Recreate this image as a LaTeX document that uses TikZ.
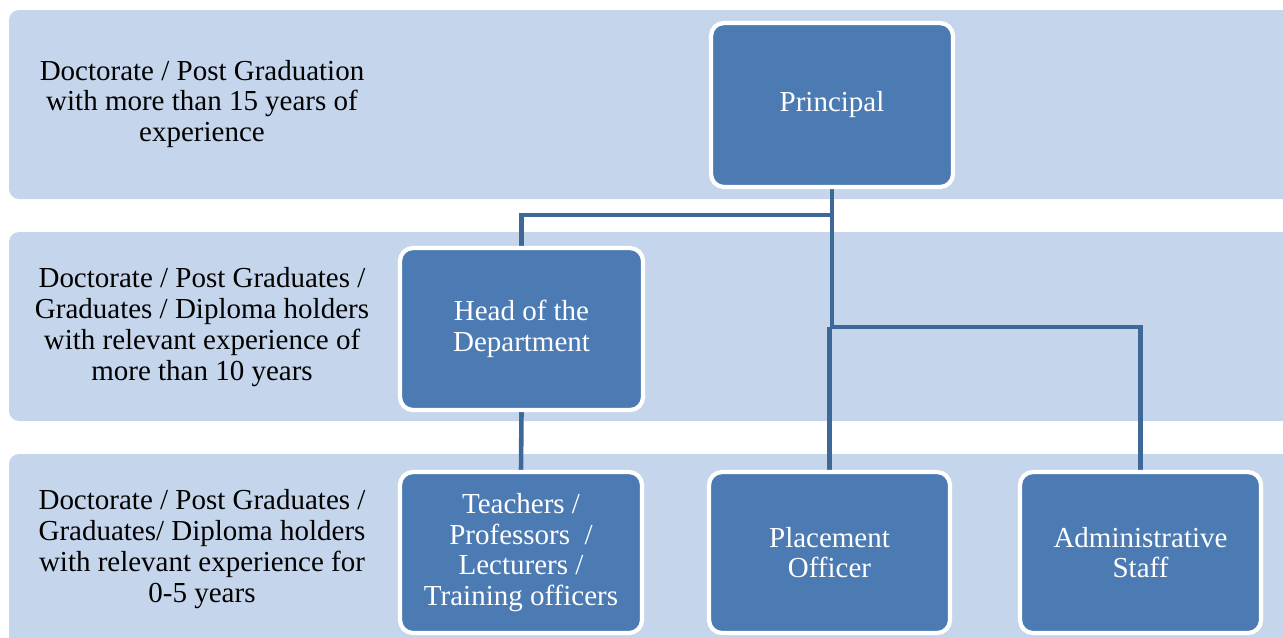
\documentclass[tikz,border=0pt]{standalone}
\usepackage{fontspec}
\setmainfont{Liberation Serif}
\newfontfamily\tnr{Liberation Serif}
\usetikzlibrary{backgrounds}
\definecolor{bandblue}{HTML}{C5D6EC}
\definecolor{boxblue}{HTML}{4C7BB4}
\definecolor{lineblue}{HTML}{3E6897}
\begin{document}
\begin{tikzpicture}[x=0.02cm,y=-0.02cm,
  band/.style={fill=bandblue,draw=none,rounded corners=0.2cm},
  orgbox/.style={draw=white,line width=2.4pt,fill=boxblue,rounded corners=0.26cm,
    text=white,align=center,inner sep=0pt,font=\tnr\fontsize{16.5pt}{17.5pt}\selectfont},
  lbl/.style={align=center,text=black,font=\tnr\fontsize{16.5pt}{17.5pt}\selectfont},
  conn/.style={draw=lineblue,line width=2.6pt}]
\useasboundingbox (0,0) rectangle (1283,637);
% labels
\node[lbl] (l1) at (202,104) {Doctorate / Post Graduation\\with more than 15 years of\\experience};
\node[lbl] (l2) at (202,327) {Doctorate / Post Graduates /\\Graduates / Diploma holders\\with relevant experience of\\more than 10 years};
\node[lbl] (l3) at (202,549) {Doctorate / Post Graduates /\\Graduates/ Diploma holders\\with relevant experience for\\0-5 years};
% boxes
\node[orgbox,minimum width=242*0.02cm,minimum height=164*0.02cm] (pr) at (832,105) {Principal};
\node[orgbox,minimum width=243*0.02cm,minimum height=162*0.02cm] (hod) at (521.5,329) {Head of the\\Department};
\node[orgbox,minimum width=242*0.02cm,minimum height=161*0.02cm] (tch) at (521,552.5) {Teachers /\\Professors~~/\\Lecturers /\\Training officers};
\node[orgbox,minimum width=241*0.02cm,minimum height=161*0.02cm] (plc) at (829.5,552.5) {Placement\\Officer};
\node[orgbox,minimum width=241*0.02cm,minimum height=161*0.02cm] (adm) at (1140.5,552.5) {Administrative\\Staff};
% junctions
\coordinate (j1) at (832,215);
\coordinate (j2) at (832,327);
\begin{scope}[on background layer]
  \fill[band] (9,10) rectangle (1300,199);
  \fill[band] (9,232) rectangle (1300,421);
  \fill[band] (9,454) rectangle (1300,660);
  \draw[conn] (pr.south) -- (j1) -| (hod.north);
  \draw[conn] (j1) -- (j2) -| (adm.north);
  \draw[conn] (j2 -| plc.north) -- (plc.north);
  \draw[conn] (hod.south) -- (tch.north);
\end{scope}
\end{tikzpicture}
\end{document}
